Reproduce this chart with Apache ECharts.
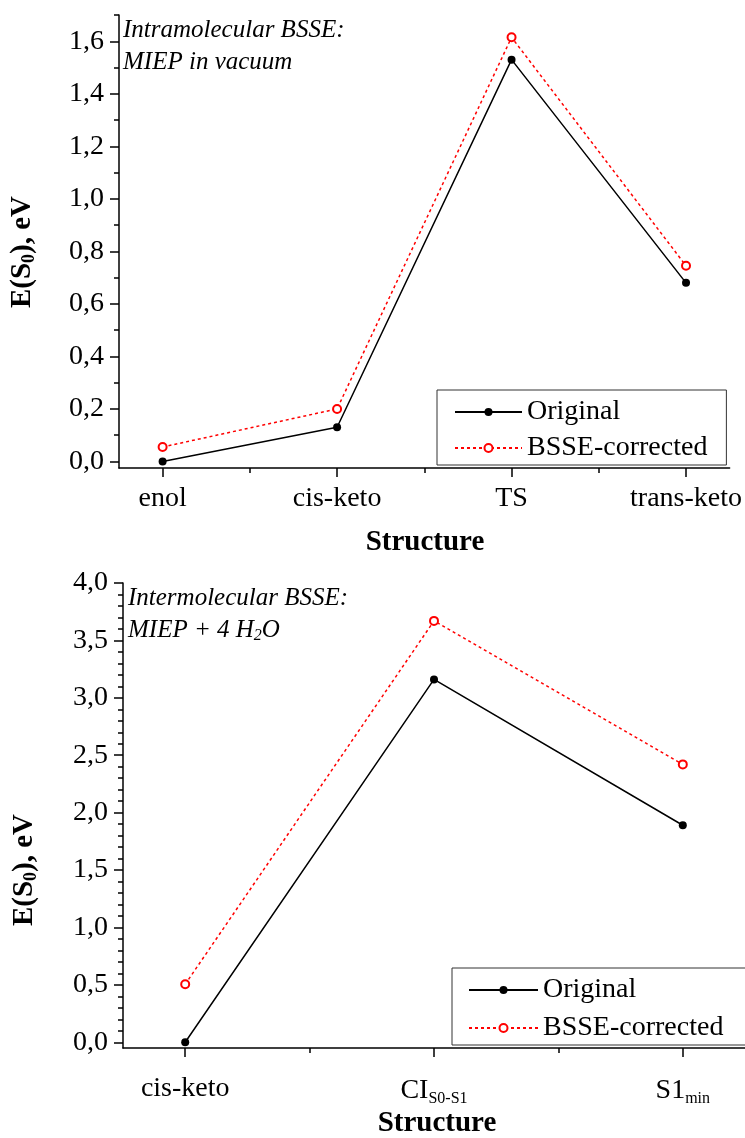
<!DOCTYPE html>
<html><head><meta charset="utf-8">
<script src="https://cdn.jsdelivr.net/npm/echarts@6/dist/echarts.min.js"></script>
<style>html,body{margin:0;padding:0;background:#fff;}#c{width:745px;height:1138px;}</style>
</head><body><div id="c"></div>
<script>
// ---- data ----
const topCategories = ['enol', 'cis-keto', 'TS', 'trans-keto'];
const topOriginal = [0.0, 0.13, 1.53, 0.68];
const topCorrected = [0.055, 0.20, 1.615, 0.745];

const botCategories = ['cis-keto', 'CI', 'S1'];
const botCategorySubs = ['', 'S0-S1', 'min'];
const botOriginal = [0.0, 3.16, 1.89];
const botCorrected = [0.505, 3.67, 2.42];

const topYMajor = [0, 0.2, 0.4, 0.6, 0.8, 1.0, 1.2, 1.4, 1.6];
const topYMinor = [0.1, 0.3, 0.5, 0.7, 0.9, 1.1, 1.3, 1.5, 1.7];
const botYMajor = [0, 0.5, 1.0, 1.5, 2.0, 2.5, 3.0, 3.5, 4.0];
const botYMinor = [0.1,0.2,0.3,0.4,0.6,0.7,0.8,0.9,1.1,1.2,1.3,1.4,1.6,1.7,1.8,1.9,2.1,2.2,2.3,2.4,2.6,2.7,2.8,2.9,3.1,3.2,3.3,3.4,3.6,3.7,3.8,3.9];
const topXMajor = [0, 1, 2, 3];
const topXMinor = [0.5, 1.5, 2.5];
const botXMajor = [0, 1, 2];
const botXMinor = [0.5, 1.5];

// ---- styles ----
const FONT = "'Liberation Serif','Times New Roman',serif";
const lineBlack = {color: '#000', width: 1.5};
const fmtY = v => v.toFixed(1).replace('.', ',');

function xAxes(gridIndex, min, max, major, minor, formatter, rich, margin) {
  return [{
    type: 'value', gridIndex, min, max, position: 'bottom',
    axisLine: {show: true, onZero: false, lineStyle: lineBlack},
    axisTick: {show: true, customValues: major, length: 9, lineStyle: lineBlack},
    axisLabel: {show: true, customValues: major, formatter, rich, margin,
      color: '#000', fontFamily: FONT, fontSize: 28},
    splitLine: {show: false}
  }, {
    type: 'value', gridIndex, min, max, position: 'bottom',
    axisLine: {show: false, onZero: false},
    axisTick: {show: true, customValues: minor, length: 5, lineStyle: lineBlack},
    axisLabel: {show: false},
    splitLine: {show: false}
  }];
}
function yAxes(gridIndex, min, max, major, minor) {
  return [{
    type: 'value', gridIndex, min, max, position: 'left',
    axisLine: {show: true, onZero: false, lineStyle: lineBlack},
    axisTick: {show: true, customValues: major, length: 9, lineStyle: lineBlack},
    axisLabel: {show: true, customValues: major, formatter: fmtY, margin: 15,
      color: '#000', fontFamily: FONT, fontSize: 28},
    splitLine: {show: false}
  }, {
    type: 'value', gridIndex, min, max, position: 'left',
    axisLine: {show: false, onZero: false},
    axisTick: {show: true, customValues: minor, length: 5, lineStyle: lineBlack},
    axisLabel: {show: false},
    splitLine: {show: false}
  }];
}
function seriesPair(xi, yi, orig, corr) {
  return [{
    name: 'Original', type: 'line', xAxisIndex: xi, yAxisIndex: yi,
    data: orig.map((v, i) => [i, v]),
    symbol: 'circle', symbolSize: 8,
    itemStyle: {color: '#000'},
    lineStyle: {color: '#000', width: 1.5},
    animation: false, z: 3
  }, {
    name: 'BSSE-corrected', type: 'line', xAxisIndex: xi, yAxisIndex: yi,
    data: corr.map((v, i) => [i, v]),
    symbol: 'emptyCircle', symbolSize: 8,
    itemStyle: {color: '#ff0000', borderColor: '#ff0000', borderWidth: 1.5},
    lineStyle: {color: '#ff0000', width: 1.5, type: [3, 3]},
    animation: false, z: 2
  }];
}
function legendBox(left, top, itemWidth, itemGap, padding) {
  return {
    data: ['Original', 'BSSE-corrected'], orient: 'vertical', left, top,
    itemWidth, itemHeight: 10, itemGap,
    padding, backgroundColor: '#fff', borderColor: '#333', borderWidth: 1,
    borderRadius: 0,
    textStyle: {color: '#000', fontFamily: FONT, fontSize: 28, lineHeight: 28},
    selectedMode: false
  };
}
const subRich = {
  m: {fontFamily: FONT, fontSize: 28, color: '#000'},
  s: {fontFamily: FONT, fontSize: 16, color: '#000', padding: [16, 0, 0, 0]}
};
function botFormatter(v) {
  const i = Math.round(v);
  const sub = botCategorySubs[i];
  return sub ? '{m|' + botCategories[i] + '}{s|' + sub + '}' : '{m|' + botCategories[i] + '}';
}
const titleRich = {
  a: {fontFamily: FONT, fontSize: 29, fontWeight: 'bold', color: '#000'},
  s: {fontFamily: FONT, fontSize: 18, fontWeight: 'bold', color: '#000', padding: [13, 0, 0, 0]}
};
const noteRich = {
  a: {fontFamily: FONT, fontSize: 25, fontStyle: 'italic', color: '#000'},
  s: {fontFamily: FONT, fontSize: 16, fontStyle: 'italic', color: '#000', padding: [12, 0, 0, 0]}
};
function gtext(x, y, text, rich, rotation, align) {
  return {type: 'text', x, y, rotation: rotation || 0, z: 10,
    style: {text, rich, align: align || 'center', verticalAlign: 'middle'}};
}

const chart = echarts.init(document.getElementById('c'), null, {renderer: 'canvas'});
chart.setOption({
  backgroundColor: '#fff',
  animation: false,
  grid: [
    {left: 119, top: 15, width: 611, height: 453},
    {left: 123, top: 583, width: 626, height: 465}
  ],
  xAxis: [
    ...xAxes(0, -0.25, 3.25, topXMajor, topXMinor, v => topCategories[Math.round(v)], null, 17),
    ...xAxes(1, -0.25, 2.25, botXMajor, botXMinor, botFormatter, subRich, 27)
  ],
  yAxis: [
    ...yAxes(0, -0.025, 1.7, topYMajor, topYMinor),
    ...yAxes(1, -0.05, 4.0, botYMajor, botYMinor)
  ],
  legend: [
    legendBox(437, 390, 67, 8, [8, 19, 3, 17]),
    legendBox(452, 968, 69, 10, [8, 40, 3, 16])
  ],
  series: [
    ...seriesPair(0, 0, topOriginal, topCorrected),
    ...seriesPair(2, 2, botOriginal, botCorrected)
  ],
  graphic: [
    gtext(23, 252, '{a|E(S}{s|0}{a|), eV}', titleRich, Math.PI / 2),
    gtext(25, 870, '{a|E(S}{s|0}{a|), eV}', titleRich, Math.PI / 2),
    gtext(425, 543, '{a|Structure}', titleRich),
    gtext(437, 1124, '{a|Structure}', titleRich),
    gtext(123, 30, '{a|Intramolecular BSSE:}', noteRich, 0, 'left'),
    gtext(123, 62, '{a|MIEP in vacuum}', noteRich, 0, 'left'),
    gtext(128, 598, '{a|Intermolecular BSSE:}', noteRich, 0, 'left'),
    gtext(128, 630, '{a|MIEP + 4 H}{s|2}{a|O}', noteRich, 0, 'left')
  ]
});
</script>
</body></html>
